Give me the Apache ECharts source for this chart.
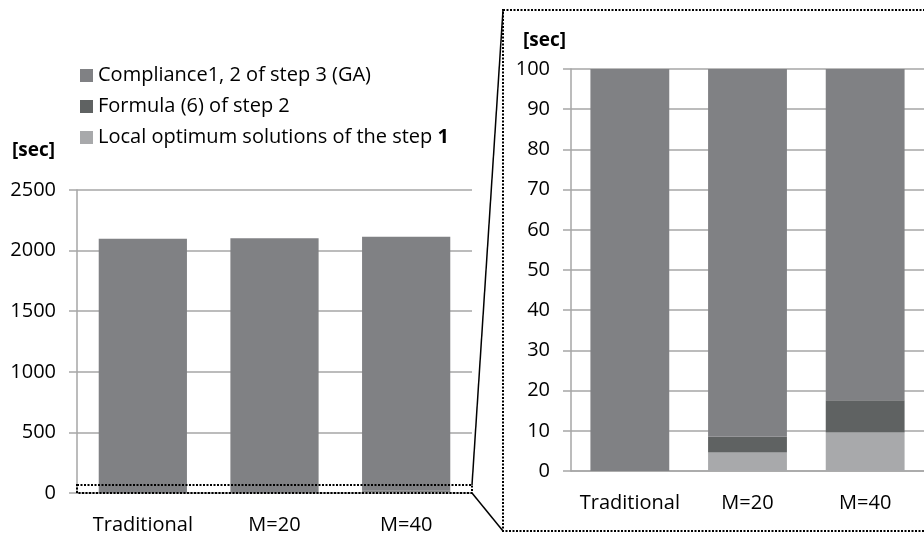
<!DOCTYPE html>
<html lang="en">
<head>
    <meta charset="UTF-8">
    <title>Computation time</title>
    <script src="https://cdn.jsdelivr.net/npm/echarts@6/dist/echarts.min.js"></script>
    <style>
        body { margin: 0; background: #fff; }
    </style>
</head>
<body>
    <div id="main" style="width: 924px;height:535px;"></div>

    <script>
        // categories and values (seconds)
        var categories = ['Traditional', 'M=20', 'M=40'];
        var seriesNames = ['Compliance1, 2 of step 3 (GA)', 'Formula (6) of step 2', 'Local optimum solutions of the step 1'];
        var localOpt = [0, 4.6, 9.6];
        var formula6 = [0, 3.9, 8.0];
        var compliance = [2097, 2093, 2096];
        var leftTicks = [0, 500, 1000, 1500, 2000, 2500];
        var rightTicks = [0, 10, 20, 30, 40, 50, 60, 70, 80, 90, 100];

        var colors = ['#808184', '#5f6262', '#a8a9ab'];
        var font = 'Open Sans';
        var gridColor = '#a6a6a6';

        var myChart = echarts.init(document.getElementById('main'));

        function xAx(idx) {
            return {
                type: 'category',
                gridIndex: idx,
                data: categories,
                axisLine: { lineStyle: { color: gridColor, width: 1.5 } },
                axisTick: { length: 7, lineStyle: { color: gridColor, width: 1.5 } },
                axisLabel: { color: '#000', fontSize: 20, fontFamily: font, margin: 22, interval: 0 }
            };
        }
        function yAx(idx, ticks) {
            return {
                type: 'value',
                gridIndex: idx,
                min: ticks[0],
                max: ticks[ticks.length - 1],
                interval: ticks[1] - ticks[0],
                axisLine: { show: true, lineStyle: { color: gridColor, width: 1.5 } },
                axisTick: { show: true, inside: false, length: 8, lineStyle: { color: gridColor, width: 1.5 } },
                splitLine: { lineStyle: { color: gridColor, width: 1.5 } },
                axisLabel: {
                    color: '#000', fontSize: 20, fontFamily: font, margin: 21,
                    formatter: function(v) { return String(v); }
                }
            };
        }

        // bottom-to-top stack order: local, formula, compliance
        var stackData = [localOpt, formula6, compliance];
        var stackNames = [seriesNames[2], seriesNames[1], seriesNames[0]];
        var stackColors = [colors[2], colors[1], colors[0]];
        var series = [];
        [0, 1].forEach(function(g) {
            for (var i = 0; i < 3; i++) {
                series.push({
                    name: stackNames[i],
                    type: 'bar',
                    stack: 's' + g,
                    xAxisIndex: g,
                    yAxisIndex: g,
                    barWidth: '67%',
                    itemStyle: { color: stackColors[i] },
                    data: stackData[i]
                });
            }
        });

        var dotted = { stroke: '#000', fill: null, lineWidth: 2, lineDash: [2, 1.5] };

        var option = {
            animation: false,
            textStyle: { fontFamily: font },
            legend: {
                orient: 'vertical',
                left: 80,
                top: 62,
                padding: 0,
                icon: 'rect',
                itemWidth: 13,
                itemHeight: 13,
                itemGap: 4,
                data: seriesNames,
                textStyle: {
                    color: '#000', fontSize: 20, fontFamily: font, lineHeight: 27,
                    rich: { b: { fontWeight: 'bold', fontSize: 20, fontFamily: font, color: '#000', lineHeight: 27 } }
                },
                formatter: function(name) {
                    if (name === seriesNames[2]) return 'Local optimum solutions of the step {b|1}';
                    return name;
                }
            },
            color: colors,
            grid: [
                { left: 77, top: 190, width: 395, height: 303 },
                { left: 571, top: 69, width: 356, height: 402 }
            ],
            xAxis: [xAx(0), xAx(1)],
            yAxis: [yAx(0, leftTicks), yAx(1, rightTicks)],
            series: series,
            graphic: [
                { type: 'text', left: 12, top: 141, style: { text: '[sec]', fontSize: 19, fontWeight: 'bold', fontFamily: font, fill: '#000' } },
                { type: 'text', left: 523, top: 31, style: { text: '[sec]', fontSize: 19, fontWeight: 'bold', fontFamily: font, fill: '#000' } },
                { type: 'rect', shape: { x: 77, y: 485, width: 395, height: 8 }, style: dotted, z: 100 },
                { type: 'rect', shape: { x: 503, y: 10, width: 440, height: 521 }, style: dotted, z: 100 },
                { type: 'line', shape: { x1: 472, y1: 485, x2: 503, y2: 10 }, style: { stroke: '#000', lineWidth: 1.5 }, z: 100 },
                { type: 'line', shape: { x1: 472, y1: 493, x2: 503, y2: 531 }, style: { stroke: '#000', lineWidth: 1.5 }, z: 100 }
            ]
        };

        myChart.setOption(option);
    </script>
</body>
</html>
